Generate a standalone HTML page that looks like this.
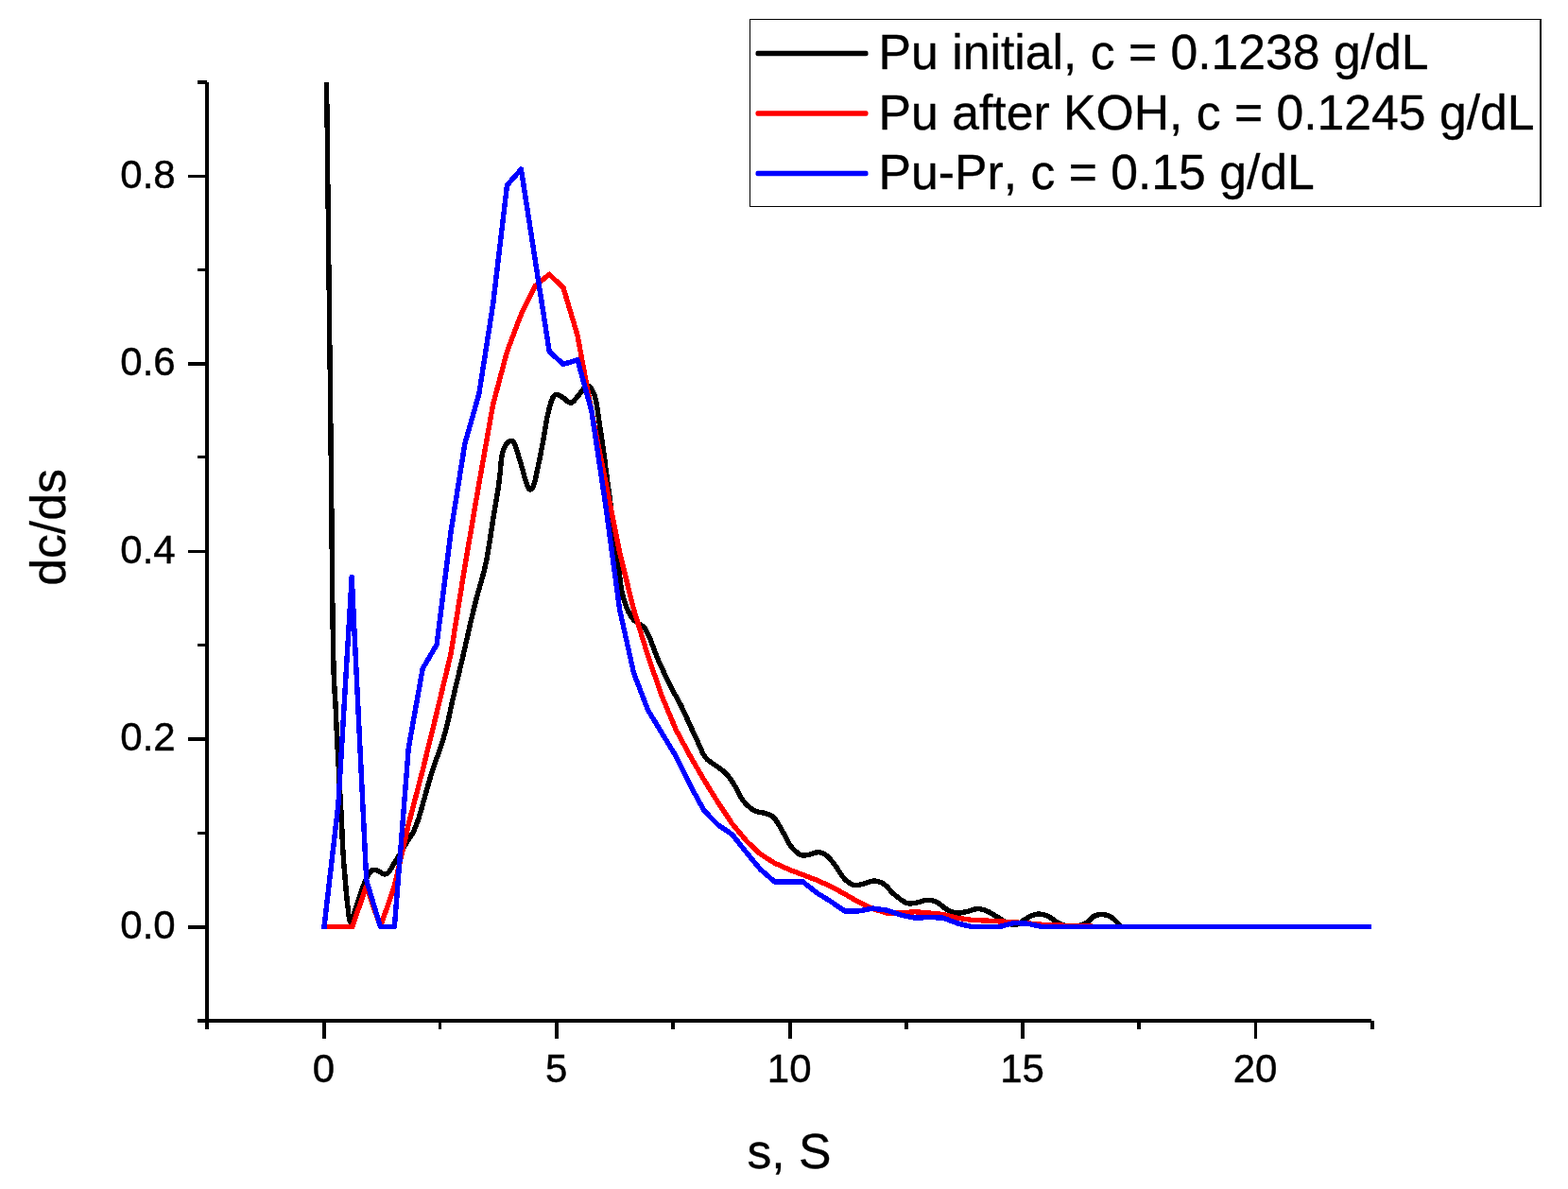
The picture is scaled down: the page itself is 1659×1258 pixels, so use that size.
<!DOCTYPE html>
<html lang="en"><head><meta charset="utf-8"><title>dc/ds vs s</title>
<style>
html,body{margin:0;padding:0;background:#fff;}
body{width:1659px;height:1258px;overflow:hidden;position:relative;font-family:"Liberation Sans",sans-serif;}
svg{position:absolute;left:0;top:0;display:block;}
text{font-family:"Liberation Sans",sans-serif;fill:#000;font-kerning:none;}
.tick{font-size:42px;stroke:#000;stroke-width:0.45px;}
.title{font-size:51.7px;stroke:#000;stroke-width:0.35px;}
.leg{font-size:51.7px;stroke:#000;stroke-width:0.35px;}
.cv{fill:none;stroke-width:5.4;stroke-linejoin:round;stroke-linecap:butt;shape-rendering:crispEdges;}
</style></head><body>
<svg width="1659" height="1258" viewBox="0 0 1659 1258">
<rect x="0" y="0" width="1659" height="1258" fill="#ffffff"/>
<defs><clipPath id="plot"><rect x="219" y="87" width="1232" height="993"/></clipPath></defs>
<g clip-path="url(#plot)">
<path class="cv" stroke="#000000" d="M343.0,-138.0 L343.3,-111.8 L343.7,-74.2 L344.2,-30.4 L344.8,14.6 L345.2,55.4 L345.6,87.0 L345.8,108.4 L346.0,123.6 L346.2,134.8 L346.3,143.9 L346.4,153.3 L346.5,165.0 L346.7,178.8 L346.8,192.8 L347.0,207.1 L347.2,221.4 L347.3,235.8 L347.5,250.0 L347.7,264.2 L347.8,278.3 L348.0,292.5 L348.2,306.7 L348.3,320.8 L348.5,335.0 L348.7,349.1 L348.8,363.1 L349.0,377.2 L349.2,391.3 L349.3,405.5 L349.5,420.0 L349.7,433.7 L349.8,446.3 L349.9,459.1 L350.1,473.1 L350.3,489.7 L350.5,510.0 L350.8,536.2 L351.1,567.8 L351.4,601.9 L351.8,635.6 L352.2,665.9 L352.6,690.0 L353.0,707.1 L353.4,719.3 L353.9,728.1 L354.3,735.2 L354.8,742.0 L355.2,750.0 L355.6,759.0 L356.0,767.8 L356.4,776.2 L356.8,784.4 L357.2,792.4 L357.6,800.0 L358.0,807.3 L358.4,814.4 L358.7,821.1 L359.1,827.6 L359.5,833.9 L359.8,840.0 L360.1,845.9 L360.5,851.5 L360.8,857.0 L361.1,862.2 L361.4,867.2 L361.6,872.0 L361.8,876.4 L361.9,880.5 L362.1,884.3 L362.2,888.0 L362.4,892.0 L362.6,896.3 L362.9,901.0 L363.3,905.9 L363.6,911.0 L364.0,916.2 L364.5,921.4 L364.9,926.5 L365.3,931.7 L365.8,937.0 L366.2,942.3 L366.7,947.4 L367.2,952.3 L367.7,956.7 L368.2,960.9 L368.6,965.2 L369.1,969.1 L369.6,972.4 L370.2,974.8 L370.8,976.0 L371.5,975.7 L372.2,974.3 L373.0,971.9 L373.9,968.9 L374.9,965.5 L376.0,962.0 L377.4,958.1 L378.9,953.4 L380.6,948.3 L382.3,943.3 L383.9,938.8 L385.3,935.0 L386.5,932.1 L387.5,929.7 L388.4,927.8 L389.3,926.2 L390.1,924.8 L391.0,923.5 L391.9,922.4 L392.7,921.6 L393.5,921.0 L394.3,920.6 L395.1,920.3 L396.0,920.2 L396.9,920.2 L397.8,920.5 L398.8,920.9 L399.7,921.4 L400.6,921.9 L401.5,922.3 L402.4,922.7 L403.2,923.3 L404.0,923.8 L404.8,924.3 L405.6,924.6 L406.4,924.8 L407.2,924.8 L407.9,924.8 L408.6,924.6 L409.4,924.3 L410.2,923.8 L411.0,923.0 L411.8,922.0 L412.6,920.9 L413.4,919.6 L414.3,918.1 L415.4,916.2 L416.7,914.0 L418.3,911.3 L420.3,908.2 L422.4,904.7 L424.5,901.1 L426.7,897.4 L428.8,893.8 L430.8,890.6 L432.7,887.8 L434.6,884.9 L436.6,881.5 L438.6,877.4 L440.8,872.0 L443.2,865.0 L445.7,856.6 L448.2,847.5 L450.9,838.0 L453.5,828.7 L456.0,820.2 L458.5,812.4 L461.1,804.9 L463.7,797.6 L466.1,790.5 L468.4,783.6 L470.5,776.8 L472.3,770.1 L473.9,763.6 L475.3,757.2 L476.6,751.0 L477.9,745.0 L479.2,739.2 L480.5,733.6 L481.8,728.1 L483.1,722.8 L484.3,717.7 L485.4,713.1 L486.4,708.8 L487.2,705.5 L487.7,703.2 L488.2,701.2 L488.8,698.9 L489.5,695.7 L490.6,691.0 L492.1,684.4 L493.9,676.2 L496.0,667.2 L498.1,657.8 L500.3,648.6 L502.3,640.2 L504.3,632.5 L506.3,625.2 L508.4,618.0 L510.4,611.0 L512.2,603.9 L513.9,596.8 L515.4,589.6 L516.6,582.3 L517.8,575.0 L518.9,567.8 L520.0,560.6 L521.1,553.4 L522.3,546.1 L523.5,538.7 L524.8,531.3 L525.9,524.1 L527.0,517.3 L527.9,511.0 L528.6,505.2 L529.2,499.7 L529.6,494.5 L530.1,489.8 L530.5,485.6 L531.1,481.9 L531.8,478.9 L532.5,476.4 L533.2,474.5 L534.0,472.9 L534.7,471.6 L535.5,470.3 L536.2,469.2 L537.0,468.3 L537.8,467.6 L538.5,467.2 L539.3,466.9 L540.0,466.7 L540.7,466.6 L541.4,466.6 L542.1,466.8 L542.8,467.2 L543.5,467.9 L544.2,469.0 L544.9,470.5 L545.6,472.5 L546.3,474.7 L547.1,477.1 L547.8,479.5 L548.5,481.9 L549.2,484.2 L549.9,486.6 L550.6,489.0 L551.4,491.4 L552.1,493.9 L552.8,496.4 L553.5,499.0 L554.3,501.9 L555.0,504.7 L555.8,507.5 L556.5,509.9 L557.2,512.0 L557.9,513.7 L558.5,515.2 L559.1,516.4 L559.7,517.2 L560.4,517.8 L561.0,518.0 L561.7,517.9 L562.3,517.5 L563.0,516.8 L563.6,515.7 L564.4,514.1 L565.1,512.0 L565.9,509.1 L566.8,505.6 L567.6,501.5 L568.5,497.3 L569.4,493.0 L570.2,489.1 L571.0,485.5 L571.7,482.0 L572.4,478.6 L573.0,475.1 L573.7,471.4 L574.5,467.4 L575.3,462.9 L576.1,457.9 L577.0,452.7 L577.9,447.5 L578.7,442.7 L579.6,438.5 L580.5,434.8 L581.3,431.3 L582.2,428.2 L583.0,425.5 L583.9,423.1 L584.7,421.1 L585.5,419.6 L586.3,418.6 L587.1,418.0 L587.9,417.7 L588.8,417.5 L589.7,417.5 L590.7,417.7 L591.7,418.1 L592.8,418.8 L593.9,419.5 L595.0,420.3 L596.2,421.1 L597.4,422.0 L598.8,423.2 L600.1,424.4 L601.5,425.4 L602.8,426.1 L604.2,426.2 L605.5,425.6 L606.8,424.6 L608.1,423.1 L609.4,421.5 L610.8,419.8 L612.2,418.2 L613.7,416.4 L615.3,414.2 L616.9,411.9 L618.5,409.9 L620.1,408.6 L621.6,408.1 L623.0,408.6 L624.5,409.8 L625.9,411.6 L627.2,414.0 L628.4,416.7 L629.5,419.7 L630.4,423.2 L631.2,427.2 L631.9,431.6 L632.6,436.3 L633.2,441.0 L633.9,445.7 L634.6,450.3 L635.3,455.1 L636.1,459.9 L636.8,464.8 L637.5,469.7 L638.2,474.7 L638.9,479.8 L639.6,485.0 L640.3,490.3 L640.9,495.6 L641.6,500.8 L642.3,506.0 L643.0,511.1 L643.6,516.0 L644.3,520.9 L645.0,525.9 L645.6,531.0 L646.3,536.2 L647.0,541.6 L647.7,547.2 L648.4,552.9 L649.1,558.6 L649.8,564.3 L650.5,570.0 L651.3,575.8 L652.0,581.8 L652.8,587.9 L653.6,593.7 L654.3,599.2 L655.0,604.2 L655.5,608.6 L656.0,612.5 L656.4,616.0 L656.8,619.3 L657.3,622.6 L657.9,625.9 L658.7,629.3 L659.6,632.7 L660.5,635.9 L661.6,639.1 L662.6,642.0 L663.7,644.7 L664.8,647.1 L665.9,649.2 L667.0,651.2 L668.2,652.9 L669.5,654.6 L670.9,656.2 L672.5,657.6 L674.2,658.8 L676.0,659.9 L677.8,661.0 L679.5,662.2 L681.0,663.5 L682.2,664.8 L683.1,666.1 L683.9,667.4 L684.7,669.0 L685.6,671.0 L686.8,673.6 L688.2,676.9 L689.7,680.8 L691.3,685.2 L693.0,689.7 L694.8,694.4 L696.7,698.9 L698.7,703.4 L700.9,708.1 L703.1,712.9 L705.4,717.6 L707.6,722.1 L709.7,726.4 L711.7,730.4 L713.8,734.2 L715.8,737.8 L717.7,741.3 L719.6,744.7 L721.3,748.1 L722.9,751.4 L724.4,754.6 L725.8,757.7 L727.1,760.7 L728.5,763.8 L729.9,766.9 L731.4,770.1 L732.8,773.3 L734.3,776.5 L735.7,779.6 L737.2,782.7 L738.6,785.7 L739.9,788.6 L741.2,791.5 L742.4,794.2 L743.6,796.9 L745.0,799.4 L746.6,801.6 L748.4,803.6 L750.5,805.3 L752.6,806.8 L754.8,808.3 L756.9,809.7 L758.9,811.1 L760.7,812.5 L762.5,813.8 L764.2,815.1 L765.8,816.4 L767.4,817.9 L769.0,819.5 L770.6,821.3 L772.1,823.3 L773.5,825.3 L775.0,827.5 L776.4,829.7 L777.9,832.0 L779.3,834.5 L780.7,837.1 L782.0,839.9 L783.4,842.6 L784.9,845.2 L786.5,847.5 L788.3,849.6 L790.1,851.5 L792.1,853.3 L794.1,855.0 L796.1,856.4 L798.1,857.6 L800.1,858.5 L802.1,859.0 L804.1,859.4 L806.0,859.7 L807.9,860.0 L809.7,860.5 L811.3,861.0 L812.8,861.5 L814.2,862.0 L815.6,862.7 L817.0,863.6 L818.4,864.8 L819.9,866.4 L821.3,868.4 L822.8,870.6 L824.2,873.0 L825.7,875.5 L827.1,877.9 L828.5,880.5 L829.9,883.2 L831.3,886.0 L832.7,888.8 L834.2,891.5 L835.7,893.8 L837.3,895.9 L839.0,897.9 L840.8,899.8 L842.6,901.4 L844.3,902.8 L845.9,903.9 L847.4,904.6 L848.8,905.0 L850.1,905.1 L851.5,905.0 L852.9,904.8 L854.5,904.6 L856.3,904.2 L858.3,903.7 L860.3,903.0 L862.3,902.3 L864.3,901.8 L866.1,901.7 L867.7,901.9 L869.2,902.2 L870.6,902.7 L872.0,903.4 L873.4,904.3 L874.8,905.4 L876.2,906.7 L877.6,908.1 L879.1,909.8 L880.5,911.6 L882.0,913.5 L883.5,915.5 L885.1,917.7 L886.8,920.3 L888.5,922.9 L890.2,925.5 L891.9,927.9 L893.6,929.9 L895.3,931.5 L897.0,933.0 L898.6,934.2 L900.3,935.2 L902.0,936.0 L903.7,936.5 L905.4,936.7 L907.0,936.7 L908.7,936.3 L910.4,935.9 L912.1,935.4 L913.9,935.0 L915.8,934.5 L917.7,933.9 L919.6,933.2 L921.6,932.6 L923.5,932.2 L925.4,932.1 L927.2,932.2 L928.9,932.6 L930.6,933.1 L932.3,933.8 L933.9,934.6 L935.6,935.7 L937.3,937.0 L938.9,938.6 L940.5,940.4 L942.1,942.3 L943.8,944.2 L945.7,945.9 L947.7,947.6 L950.0,949.4 L952.2,951.2 L954.5,952.8 L956.8,954.2 L958.8,955.2 L960.6,955.8 L962.3,956.0 L963.8,956.0 L965.4,955.8 L967.1,955.5 L968.9,955.2 L970.9,954.8 L973.2,954.2 L975.5,953.6 L977.7,952.9 L980.0,952.5 L982.0,952.3 L983.9,952.4 L985.6,952.7 L987.2,953.1 L988.8,953.7 L990.5,954.4 L992.1,955.2 L993.8,956.2 L995.5,957.4 L997.2,958.8 L998.8,960.2 L1000.5,961.4 L1002.2,962.5 L1003.9,963.4 L1005.6,964.2 L1007.2,964.9 L1008.9,965.4 L1010.6,965.8 L1012.3,966.1 L1014.0,966.2 L1015.6,966.0 L1017.3,965.8 L1019.0,965.4 L1020.7,965.0 L1022.5,964.6 L1024.4,964.1 L1026.3,963.5 L1028.2,962.9 L1030.2,962.3 L1032.1,961.9 L1034.0,961.7 L1035.8,961.7 L1037.5,961.9 L1039.2,962.3 L1040.9,962.7 L1042.5,963.3 L1044.2,963.9 L1045.9,964.7 L1047.6,965.6 L1049.3,966.6 L1050.9,967.6 L1052.6,968.7 L1054.3,969.7 L1056.0,970.7 L1057.7,971.7 L1059.3,972.8 L1061.0,973.8 L1062.7,974.7 L1064.4,975.5 L1066.1,976.3 L1067.8,977.0 L1069.4,977.7 L1071.1,978.2 L1072.8,978.5 L1074.5,978.4 L1076.2,977.9 L1078.0,977.1 L1079.7,976.0 L1081.4,974.8 L1083.1,973.6 L1084.7,972.6 L1086.2,971.7 L1087.7,970.9 L1089.2,970.1 L1090.6,969.4 L1092.0,968.7 L1093.3,968.2 L1094.6,967.8 L1095.8,967.5 L1096.9,967.3 L1098.1,967.1 L1099.3,967.1 L1100.6,967.2 L1101.9,967.4 L1103.3,967.6 L1104.7,967.9 L1106.1,968.4 L1107.7,969.0 L1109.3,969.7 L1111.0,970.7 L1112.9,971.9 L1114.8,973.2 L1116.7,974.6 L1118.8,975.9 L1120.8,976.9 L1122.9,977.8 L1125.0,978.6 L1127.2,979.4 L1129.4,980.0 L1131.6,980.4 L1133.9,980.5 L1136.3,980.4 L1138.8,980.0 L1141.4,979.4 L1143.9,978.6 L1146.2,977.8 L1148.3,976.9 L1150.1,975.9 L1151.6,974.6 L1153.0,973.2 L1154.3,971.9 L1155.6,970.7 L1157.0,969.7 L1158.5,969.0 L1159.9,968.4 L1161.3,968.0 L1162.8,967.7 L1164.2,967.6 L1165.7,967.5 L1167.2,967.6 L1168.7,967.8 L1170.2,968.2 L1171.7,968.6 L1173.1,969.2 L1174.4,969.7 L1175.5,970.3 L1176.4,970.9 L1177.3,971.6 L1178.1,972.3 L1179.0,973.1 L1180.0,974.0 L1181.0,975.0 L1182.0,976.2 L1183.0,977.5 L1184.2,978.7 L1185.5,979.8 L1187.0,980.5 L1189.0,980.5 L1191.4,980.5 L1193.9,980.5 L1196.4,980.5 L1198.5,980.5 L1200.0,980.5 L1452.0,980.5"/>
<path class="cv" stroke="#ff0000" d="M343.0,980.5 L357.9,980.5 L372.8,980.5 L387.7,937.3 L402.5,980.5 L417.4,937.3 L432.3,872.0 L447.2,815.0 L462.1,754.0 L477.0,692.0 L491.9,598.8 L506.8,511.8 L521.6,428.0 L536.5,372.0 L551.4,332.5 L566.3,302.5 L581.2,290.2 L596.1,304.7 L611.0,354.8 L625.9,435.2 L640.7,510.0 L655.6,584.6 L670.5,644.8 L685.4,693.4 L700.3,736.5 L715.2,772.1 L730.1,799.7 L744.9,825.2 L759.8,849.1 L774.7,871.7 L789.6,889.6 L804.5,903.6 L819.4,913.1 L834.3,919.8 L849.2,925.5 L864.0,931.1 L878.9,937.8 L893.8,945.9 L908.7,954.6 L923.6,961.7 L938.5,966.0 L953.4,965.9 L968.3,964.7 L983.1,966.0 L998.0,967.5 L1012.9,971.2 L1027.8,973.4 L1042.7,974.0 L1057.6,974.9 L1072.5,975.8 L1087.3,976.9 L1102.2,978.2 L1117.1,978.9 L1132.0,979.5 L1146.9,979.9 L1161.8,980.4 L1176.7,980.5 L1452.0,980.5"/>
<path class="cv" stroke="#0000ff" d="M343.0,980.5 L357.9,851.4 L372.2,610.5 L387.7,931.3 L402.5,980.5 L417.4,980.5 L432.3,791.3 L447.2,707.4 L462.1,682.0 L477.0,563.1 L491.9,469.1 L506.8,416.8 L521.6,322.1 L536.5,196.0 L551.4,179.1 L566.3,275.5 L581.2,372.0 L596.1,385.4 L611.0,380.7 L625.9,434.8 L640.7,533.9 L655.6,644.9 L670.5,712.0 L685.4,751.0 L700.3,775.6 L715.2,800.2 L730.1,830.6 L744.9,857.6 L759.8,872.8 L774.7,882.9 L789.6,901.8 L804.5,919.8 L819.4,932.8 L834.3,932.8 L849.2,932.8 L864.0,944.5 L878.9,953.8 L893.8,963.9 L908.7,963.9 L923.6,961.1 L938.5,963.2 L953.4,968.3 L968.3,971.2 L983.1,970.5 L998.0,971.2 L1012.9,976.9 L1027.8,980.5 L1042.7,980.5 L1057.6,980.5 L1072.5,976.5 L1087.3,977.2 L1102.2,980.5 L1452.0,980.5"/>
<rect x="340.3" y="977.8" width="5.4" height="5.4" fill="#0000ff" shape-rendering="crispEdges"/>
</g>
<g fill="#000" shape-rendering="crispEdges">
<rect x="217" y="87" width="4" height="995"/>
<rect x="209" y="1078" width="1242" height="4"/>
<rect x="209" y="85" width="10" height="4"/>
<rect x="199" y="979" width="20" height="4"/>
<rect x="209" y="880" width="10" height="3"/>
<rect x="199" y="780" width="20" height="4"/>
<rect x="209" y="681" width="10" height="3"/>
<rect x="199" y="582" width="20" height="3"/>
<rect x="209" y="482" width="10" height="3"/>
<rect x="199" y="383" width="20" height="4"/>
<rect x="209" y="284" width="10" height="3"/>
<rect x="199" y="185" width="20" height="3"/>
<rect x="217" y="1080" width="4" height="9"/>
<rect x="341" y="1080" width="4" height="19"/>
<rect x="464" y="1080" width="3" height="9"/>
<rect x="587" y="1080" width="4" height="19"/>
<rect x="710" y="1080" width="4" height="9"/>
<rect x="834" y="1080" width="4" height="19"/>
<rect x="957" y="1080" width="4" height="9"/>
<rect x="1080" y="1080" width="4" height="19"/>
<rect x="1203" y="1080" width="4" height="9"/>
<rect x="1327" y="1080" width="3" height="19"/>
<rect x="1450" y="1080" width="4" height="9"/>
</g>
<g class="tick" text-anchor="end">
<text x="185.7" y="992.9">0.0</text>
<text x="185.7" y="794.3">0.2</text>
<text x="185.7" y="595.7">0.4</text>
<text x="185.7" y="397.1">0.6</text>
<text x="185.7" y="198.5">0.8</text>
</g>
<g class="tick" text-anchor="middle">
<text x="342.4" y="1144.6">0</text>
<text x="588.8" y="1144.6">5</text>
<text x="835.2" y="1144.6">10</text>
<text x="1081.6" y="1144.6">15</text>
<text x="1328.0" y="1144.6">20</text>
</g>
<text class="title" text-anchor="middle" x="835" y="1236">s, S</text>
<text class="title" text-anchor="middle" transform="translate(69.2,558) rotate(-90)">dc/ds</text>
<g shape-rendering="crispEdges" fill="#000">
<rect x="793" y="20" width="838" height="199" fill="#fff"/>
<rect x="793" y="20" width="838" height="1"/>
<rect x="793" y="20" width="1" height="199"/>
<rect x="793" y="218" width="838" height="1"/>
<rect x="1629" y="20" width="2" height="199"/>
</g>
<rect x="799.5" y="53.8" width="119" height="5.4" rx="2" fill="#000000"/>
<text class="leg" x="929.6" y="72.7">Pu initial, c = 0.1238 g/dL</text>
<rect x="799.5" y="117.3" width="119" height="5.4" rx="2" fill="#ff0000"/>
<text class="leg" x="929.6" y="136.6">Pu after KOH, c = 0.1245 g/dL</text>
<rect x="799.5" y="180.8" width="119" height="5.4" rx="2" fill="#0000ff"/>
<text class="leg" x="929.6" y="199.9">Pu-Pr, c = 0.15 g/dL</text>
</svg>
</body></html>
